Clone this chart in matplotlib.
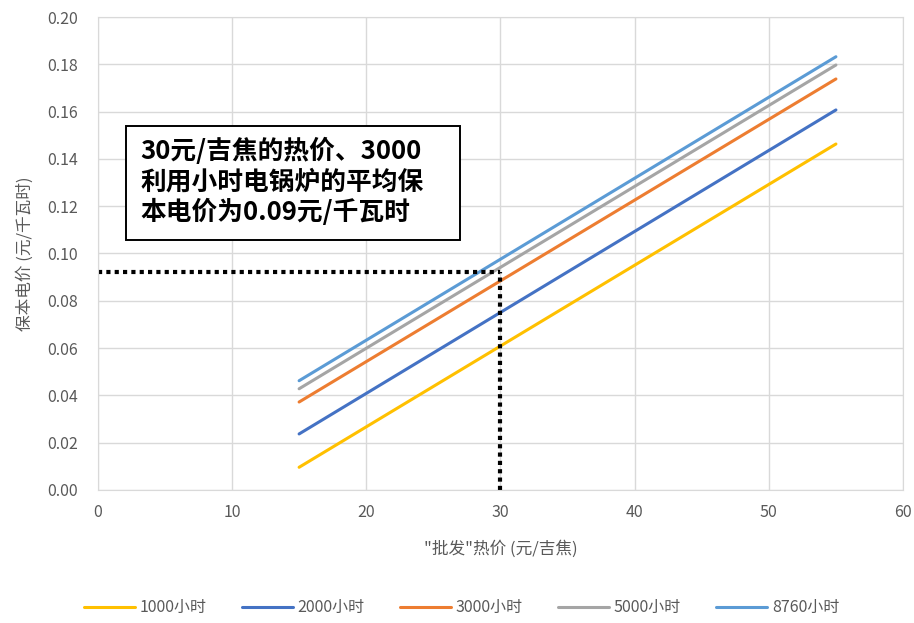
import matplotlib.pyplot as plt
from matplotlib.patches import Rectangle

plt.rcParams['font.family'] = ['Noto Sans CJK SC', 'DejaVu Sans']

# 热价 (元/吉焦) 与各利用小时数下的保本电价 (元/千瓦时)
heat_price = [15, 55]
series_names = ['1000小时', '2000小时', '3000小时', '5000小时', '8760小时']
price_1000 = [0.0096, 0.1463]
price_2000 = [0.0237, 0.1607]
price_3000 = [0.0372, 0.1738]
price_5000 = [0.0428, 0.1797]
price_8760 = [0.0462, 0.1832]
colors = ['#FFC000', '#4472C4', '#ED7D31', '#A5A5A5', '#5B9BD5']

ref_heat = 30
ref_power = 0.092

fig = plt.figure(figsize=(9.14, 6.23), dpi=100)
ax = fig.add_axes([0.107, 0.2135, 0.881, 0.7592])

for name, vals, c in zip(series_names,
                         [price_1000, price_2000, price_3000, price_5000, price_8760],
                         colors):
    ax.plot(heat_price, vals, color=c, lw=2.2, label=name, solid_capstyle='round')

# 30元/吉焦 参考线
ax.plot([0, ref_heat], [ref_power, ref_power], color='black', lw=3,
        linestyle=(0, (1, 1)), dash_capstyle='butt')
ax.plot([ref_heat, ref_heat], [0, ref_power], color='black', lw=3,
        linestyle=(0, (1, 1)), dash_capstyle='butt')

# 说明文字框
ax.add_patch(Rectangle((2.1, 0.1057), 24.9, 0.0483, fc='white', ec='black',
                       lw=1.4, zorder=4))
ax.text(3.15, 0.1302, '30元/吉焦的热价、3000\n利用小时电锅炉的平均保\n本电价为0.09元/千瓦时',
        fontsize=18.5, fontweight='bold', va='center', ha='left', linespacing=1.15,
        zorder=5)

ax.set_xlim(0, 60)
ax.set_ylim(0, 0.20)
ax.set_xticks(range(0, 61, 10))
ax.set_yticks([i * 0.02 for i in range(11)])
ax.set_yticklabels([f'{i * 0.02:.2f}' for i in range(11)])
ax.grid(True, color='#D9D9D9', lw=1)
ax.set_axisbelow(True)
for s in ax.spines.values():
    s.set_color('#D9D9D9')
ax.tick_params(length=0, colors='#595959', labelsize=11.5)
ax.tick_params(axis='y', pad=14)
ax.tick_params(axis='x', pad=10)

ax.set_xlabel('"批发"热价 (元/吉焦)', fontsize=12, color='#595959', labelpad=14)
ax.set_ylabel('保本电价 (元/千瓦时)', fontsize=12, color='#595959', labelpad=10)

fig.legend(loc='lower center', bbox_to_anchor=(0.505, -0.012), ncol=5, frameon=False,
           fontsize=11.5, handlelength=3.2, columnspacing=2.2, handletextpad=0.3,
           labelcolor='#595959')

fig.savefig('out.png', dpi=100)
